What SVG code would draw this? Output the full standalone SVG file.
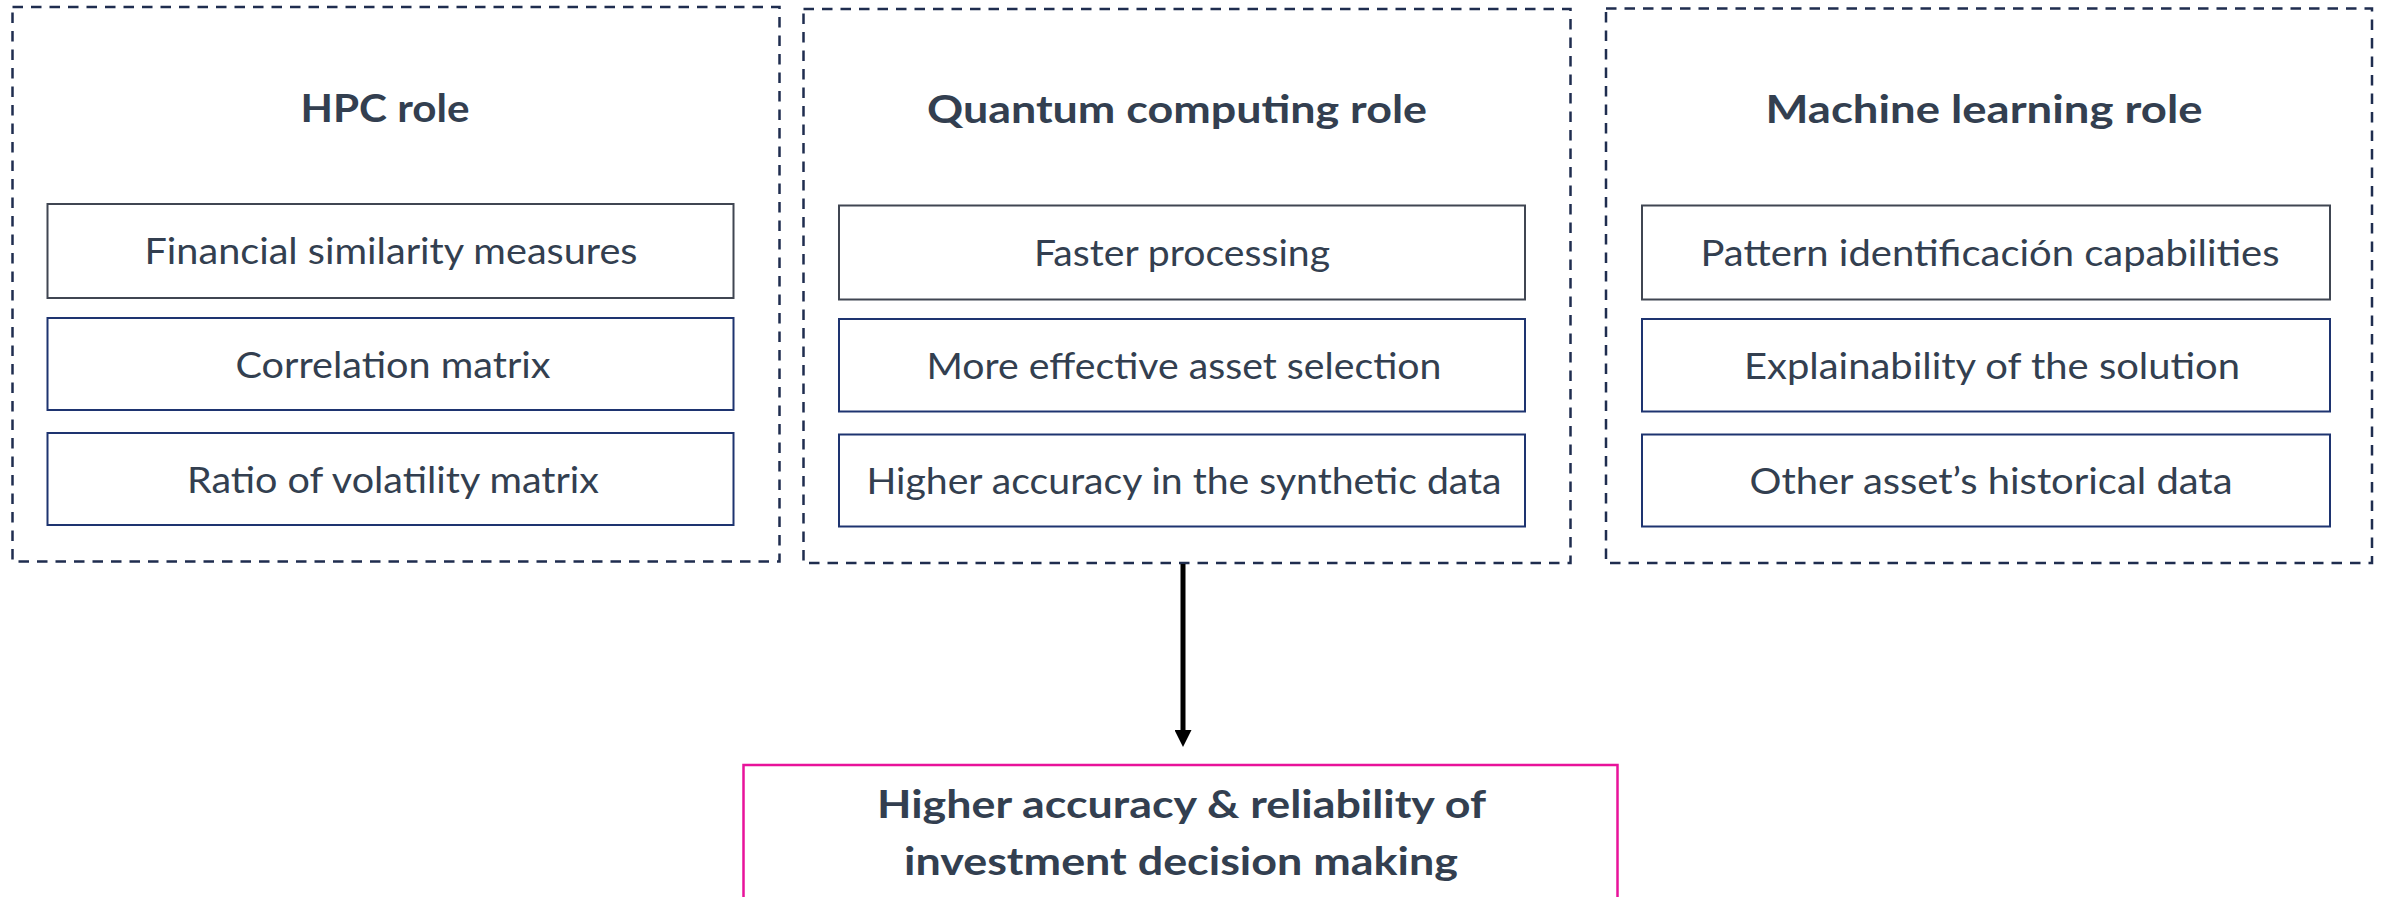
<svg xmlns="http://www.w3.org/2000/svg" width="2384" height="897" viewBox="0 0 2384 897">
  <defs>
    <style>
      .group { fill: none; stroke: #1f2d4f; stroke-width: 2.5; stroke-dasharray: 10.5 8; }
      .item1 { fill: #ffffff; stroke: #404652; stroke-width: 2; }
      .item { fill: #ffffff; stroke: #1e3470; stroke-width: 2; }
      .title { font-family: Lato, "Open Sans", sans-serif; font-weight: bold; font-size: 39px; fill: #333f50; text-anchor: middle; }
      .body { font-family: Lato, "Open Sans", sans-serif; font-size: 36px; fill: #333f50; text-anchor: middle; }
      .result { fill: #ffffff; stroke: #e8139a; stroke-width: 2.5; }
    </style>
    <marker id="arrow" viewBox="0 0 17 17" markerWidth="17" markerHeight="17" markerUnits="userSpaceOnUse" refX="0" refY="8.5" orient="auto">
      <path d="M0,0 L17,8.5 L0,17 z" fill="#000000"/>
    </marker>
  </defs>
  <rect width="2384" height="897" fill="#ffffff"/>

  <g id="hpc">
    <rect class="group" x="12.5" y="7" width="767" height="554.5"/>
    <text class="title" x="385" y="122" textLength="169" lengthAdjust="spacingAndGlyphs">HPC role</text>
    <rect class="item1" x="47.5" y="204" width="686" height="94"/>
    <text class="body" x="391" y="264" textLength="493" lengthAdjust="spacingAndGlyphs">Financial similarity measures</text>
    <rect class="item" x="47.5" y="318" width="686" height="92"/>
    <text class="body" x="393" y="377.5" textLength="315" lengthAdjust="spacingAndGlyphs">Correlation matrix</text>
    <rect class="item" x="47.5" y="433" width="686" height="92"/>
    <text class="body" x="393" y="492.5" textLength="412" lengthAdjust="spacingAndGlyphs">Ratio of volatility matrix</text>
  </g>

  <g id="quantum">
    <rect class="group" x="803.5" y="9" width="767" height="554"/>
    <text class="title" x="1177" y="123" textLength="500" lengthAdjust="spacingAndGlyphs">Quantum computing role</text>
    <rect class="item1" x="839" y="205.5" width="686" height="94"/>
    <text class="body" x="1182" y="266" textLength="296" lengthAdjust="spacingAndGlyphs">Faster processing</text>
    <rect class="item" x="839" y="319" width="686" height="92.5"/>
    <text class="body" x="1184" y="378.5" textLength="515" lengthAdjust="spacingAndGlyphs">More effective asset selection</text>
    <rect class="item" x="839" y="434.5" width="686" height="92"/>
    <text class="body" x="1184" y="494" textLength="635" lengthAdjust="spacingAndGlyphs">Higher accuracy in the synthetic data</text>
  </g>

  <g id="ml">
    <rect class="group" x="1606" y="8.5" width="766" height="554.5"/>
    <text class="title" x="1984" y="123" textLength="437" lengthAdjust="spacingAndGlyphs">Machine learning role</text>
    <rect class="item1" x="1642" y="205.5" width="688" height="94"/>
    <text class="body" x="1990" y="266" textLength="579" lengthAdjust="spacingAndGlyphs">Pattern identificación capabilities</text>
    <rect class="item" x="1642" y="319" width="688" height="92.5"/>
    <text class="body" x="1992" y="378.5" textLength="496" lengthAdjust="spacingAndGlyphs">Explainability of the solution</text>
    <rect class="item" x="1642" y="434.5" width="688" height="92"/>
    <text class="body" x="1991" y="494" textLength="483" lengthAdjust="spacingAndGlyphs">Other asset’s historical data</text>
  </g>

  <g id="connectors">
    <line x1="1183" y1="564" x2="1183" y2="730" stroke="#000000" stroke-width="5" marker-end="url(#arrow)"/>
  </g>

  <g id="outcome">
    <rect class="result" x="743.5" y="765" width="874" height="150"/>
    <text class="title" x="1181.5" y="818" textLength="609" lengthAdjust="spacingAndGlyphs">Higher accuracy &amp; reliability of</text>
    <text class="title" x="1181" y="875" textLength="554" lengthAdjust="spacingAndGlyphs">investment decision making</text>
  </g>
</svg>
